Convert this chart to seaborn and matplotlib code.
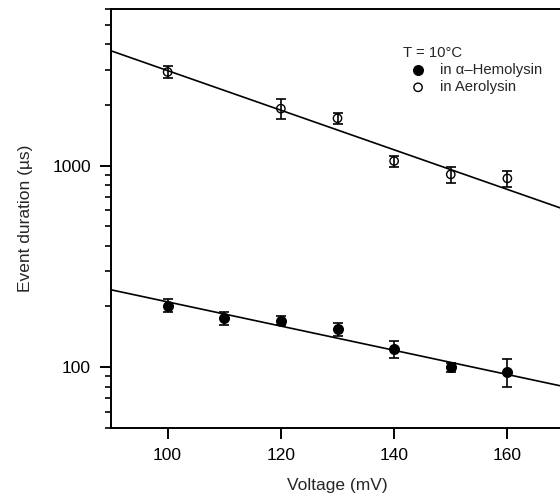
import numpy as np
import pandas as pd
import matplotlib
matplotlib.use('Agg')
import matplotlib.pyplot as plt
import matplotlib.ticker as mticker
import seaborn as sns

# data (event duration in us)
voltage_hemo = [100, 110, 120, 130, 140, 150, 160]
tau_hemo = [202, 175, 170, 154, 123, 100, 95]
err_hemo = [15, 13, 9, 12, 12, 5, 15]

voltage_aero = [100, 120, 130, 140, 150, 160]
tau_aero = [2920, 1920, 1720, 1055, 905, 865]
err_aero = [200, 220, 110, 65, 80, 80]

# exponential fits, values at the ends of the voltage range
fit_v = [90, 170]
fit_hemo = [242, 80]
fit_aero = [3720, 608]

sns.set_style('ticks')
plt.rcParams['font.family'] = ['Liberation Sans', 'DejaVu Sans']

fig = plt.figure(figsize=(5.6, 4.97), dpi=100)
ax = fig.add_axes([111/560, (497-427.7)/497, (564-111)/560, (427.7-9)/497])

hemo = pd.DataFrame({'V': voltage_hemo, 'tau': tau_hemo, 'err': err_hemo})
aero = pd.DataFrame({'V': voltage_aero, 'tau': tau_aero, 'err': err_aero})
fits = pd.DataFrame({'V': fit_v + fit_v, 'tau': fit_hemo + fit_aero,
                     'set': ['h', 'h', 'a', 'a']})

sns.lineplot(data=fits, x='V', y='tau', units='set', estimator=None,
             color='black', lw=1.2, ax=ax, legend=False)

for d in (hemo, aero):
    ax.errorbar(d['V'], d['tau'], yerr=d['err'], fmt='none',
                ecolor='black', elinewidth=1.2, capsize=3.3, capthick=1.2)

sns.scatterplot(data=hemo, x='V', y='tau', marker='o', s=48, color='black',
                edgecolor='black', linewidth=1, ax=ax, label='in \u03b1\u2013Hemolysin', zorder=5)
sns.scatterplot(data=aero, x='V', y='tau', marker='o', s=36, facecolor='none',
                edgecolor='black', linewidth=1, ax=ax, label='in Aerolysin', zorder=5)

ax.set_yscale('log')
ax.set_xlim(90, 170)
ax.set_ylim(50, 6000)
ax.set_xticks([100, 120, 140, 160])
ax.yaxis.set_major_locator(mticker.FixedLocator([100, 1000]))
ax.yaxis.set_major_formatter(mticker.FixedFormatter(['100', '1000']))
ax.yaxis.set_minor_locator(mticker.LogLocator(base=10, subs=np.arange(2, 10)))
ax.yaxis.set_minor_formatter(mticker.NullFormatter())

for s in ax.spines.values():
    s.set_linewidth(1.4)
    s.set_color('black')
ax.tick_params(axis='both', which='major', direction='out', length=8, width=1.4,
               pad=6.5, labelsize=12.5, colors='black')
ax.tick_params(axis='y', which='minor', direction='out', length=4.3, width=1.4)

ax.set_xlabel('Voltage (mV)', fontsize=12.5, labelpad=11)
ax.set_ylabel('Event duration (\u00b5s)', fontsize=12.5, labelpad=14)

leg = ax.legend(title='T = 10\u00b0C', loc='upper left', bbox_to_anchor=(0.645, 0.911),
                frameon=False, fontsize=10.7, title_fontsize=10.7, borderpad=0,
                borderaxespad=0, handlelength=2, handletextpad=0.45,
                labelspacing=0.2, alignment='left')

fig.savefig('out.png', dpi=100)
